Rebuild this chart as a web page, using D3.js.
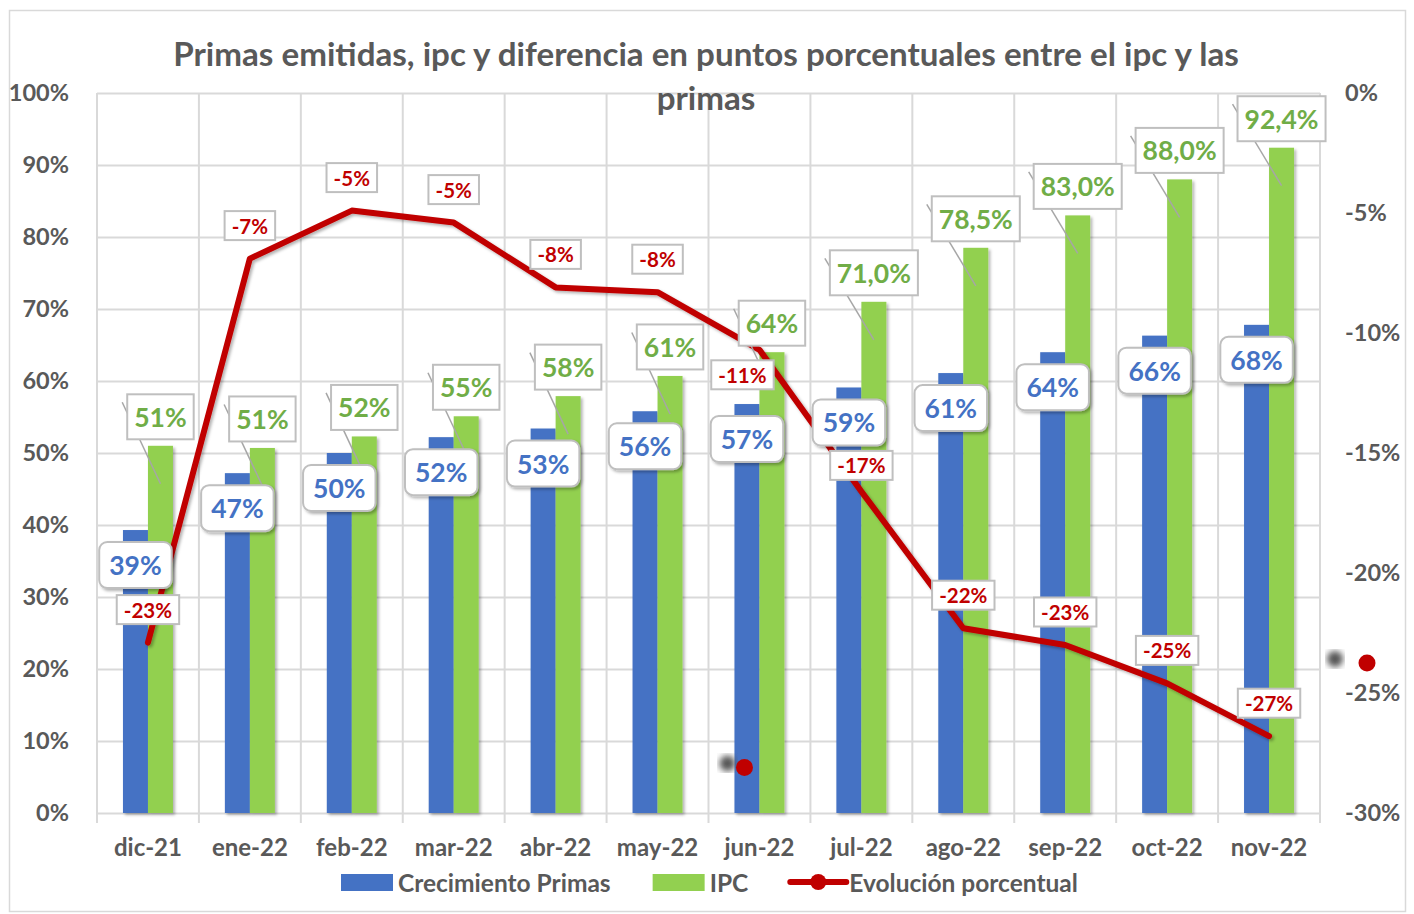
<!DOCTYPE html>
<html>
<head>
<meta charset="utf-8">
<script src="https://cdn.jsdelivr.net/npm/d3@7"></script>
<style>
  body { margin: 0; background: #fff; }
  text { font-family: Lato, "Open Sans", sans-serif; font-weight: bold; }
</style>
</head>
<body>
<svg id="chart"></svg>
<script>
// data
const categories = ["dic-21", "ene-22", "feb-22", "mar-22", "abr-22", "may-22",
                    "jun-22", "jul-22", "ago-22", "sep-22", "oct-22", "nov-22"];
const primas = [0.393, 0.472, 0.500, 0.522, 0.534, 0.558, 0.568, 0.591, 0.611, 0.640, 0.663, 0.678];
const ipc = [0.510, 0.507, 0.523, 0.551, 0.579, 0.607, 0.640, 0.710, 0.785, 0.830, 0.880, 0.924];
const ipcDecimals = [0, 0, 0, 0, 0, 0, 0, 1, 1, 1, 1, 1];
const evolucion = [-0.229, -0.069, -0.049, -0.054, -0.081, -0.083, -0.107, -0.166, -0.223, -0.230, -0.246, -0.268];
const leftTicks = [0, 0.1, 0.2, 0.3, 0.4, 0.5, 0.6, 0.7, 0.8, 0.9, 1.0];
const rightTicks = [0, -0.05, -0.10, -0.15, -0.20, -0.25, -0.30];
const seriesNames = ["Crecimiento Primas", "IPC", "Evolución porcentual"];

// labels that were dragged by hand in the original
const lineLabelNudge = { "jun-22": [-17, 58], "jul-22": [0, 7] };

const W = 1414, H = 914;
const plot = { left: 97, right: 1320, top: 93, bottom: 813 };
const colors = { primas: "#4472c4", ipc: "#92d050", line: "#c00000", text: "#595959", grid: "#d9d9d9" };

const es = d3.formatLocale({ decimal: ",", thousands: ".", grouping: [3], currency: ["", "€"], minus: "-" });
const pct0 = es.format(".0%");
const pct1 = es.format(".1%");

const svg = d3.select('#chart').attr('width', W).attr('height', H);

const defs = svg.append('defs');
defs.append('filter').attr('id', 'shadow')
    .attr('x', '-20%').attr('y', '-20%').attr('width', '150%').attr('height', '150%')
  .append('feDropShadow')
    .attr('dx', 2).attr('dy', 2).attr('stdDeviation', 1.5)
    .attr('flood-color', '#000').attr('flood-opacity', 0.3);
defs.append('filter').attr('id', 'blur')
  .append('feGaussianBlur').attr('stdDeviation', 3);

// outer chart border
svg.append('rect')
    .attr('x', 9.5).attr('y', 10.5).attr('width', 1396).attr('height', 901)
    .attr('fill', '#fff').attr('stroke', colors.grid).attr('stroke-width', 1.5);

const x = d3.scaleBand().domain(categories).range([plot.left, plot.right]).padding(0);
const y = d3.scaleLinear().domain([0, 1]).range([plot.bottom, plot.top]);
const yR = d3.scaleLinear().domain([-0.30, 0]).range([plot.bottom, plot.top]);
const barW = 25;
const cx = c => x(c) + x.bandwidth() / 2;

// horizontal grid
svg.append('g')
    .attr('transform', `translate(${plot.left},0)`)
    .call(d3.axisLeft(y).tickValues(leftTicks).tickSize(-(plot.right - plot.left)).tickFormat(''))
    .call(g => g.select('.domain').remove())
    .call(g => g.selectAll('line').attr('stroke', colors.grid).attr('stroke-width', 2));

// vertical grid at category boundaries (extends below axis like tick marks)
const bounds = categories.map(c => x(c)).concat([x(categories[categories.length - 1]) + x.bandwidth()]);
svg.append('g').selectAll('line')
    .data(bounds)
    .enter()
    .append('line')
    .attr('x1', d => d).attr('x2', d => d)
    .attr('y1', plot.top).attr('y2', plot.bottom + 10)
    .attr('stroke', colors.grid).attr('stroke-width', 2);

// left axis labels
svg.append('g')
    .attr('transform', `translate(${plot.left - 25},0)`)
    .call(d3.axisLeft(y).tickValues(leftTicks).tickSize(0).tickFormat(pct0))
    .call(g => g.select('.domain').remove())
    .call(g => g.selectAll('text').attr('fill', colors.text).style('font-size', '23.5px'));

// right axis labels
svg.append('g')
    .attr('transform', `translate(${plot.right + 22},0)`)
    .call(d3.axisRight(yR).tickValues(rightTicks).tickSize(0).tickFormat(pct0))
    .call(g => g.select('.domain').remove())
    .call(g => g.selectAll('text').attr('fill', colors.text).style('font-size', '23.5px'));

// x axis labels
svg.append('g')
    .attr('transform', `translate(0,${plot.bottom + 23})`)
    .call(d3.axisBottom(x).tickSize(0))
    .call(g => g.select('.domain').remove())
    .call(g => g.selectAll('text').attr('fill', colors.text).style('font-size', '24px'));

// bars
svg.append('g').selectAll('rect')
    .data(primas)
    .enter()
    .append('rect')
    .attr('x', (d, i) => cx(categories[i]) - barW)
    .attr('y', d => y(d))
    .attr('width', barW)
    .attr('height', d => plot.bottom - y(d))
    .attr('fill', colors.primas)
    .attr('filter', 'url(#shadow)');

svg.append('g').selectAll('rect')
    .data(ipc)
    .enter()
    .append('rect')
    .attr('x', (d, i) => cx(categories[i]))
    .attr('y', d => y(d))
    .attr('width', barW)
    .attr('height', d => plot.bottom - y(d))
    .attr('fill', colors.ipc)
    .attr('filter', 'url(#shadow)');

// stray markers left over in the original sheet
const strays = [
    { px: cx("jun-22") - 15, py: yR(-0.281) },
    { px: plot.right + 47, py: yR(-0.2375) }
];
svg.append('g').selectAll('circle')
    .data(strays)
    .enter()
    .append('circle')
    .attr('cx', d => d.px - 17 - (d.px > plot.right ? 15 : 0))
    .attr('cy', d => d.py - 4)
    .attr('r', 8).attr('fill', '#555').attr('filter', 'url(#blur)');
svg.append('g').selectAll('circle')
    .data(strays)
    .enter()
    .append('circle')
    .attr('cx', d => d.px).attr('cy', d => d.py)
    .attr('r', 8.5).attr('fill', colors.line);

// red line
const line = d3.line()
    .x((d, i) => cx(categories[i]))
    .y(d => yR(d));
svg.append('path')
    .datum(evolucion)
    .attr('d', line)
    .attr('fill', 'none')
    .attr('stroke', colors.line)
    .attr('stroke-width', 6)
    .attr('stroke-linejoin', 'round')
    .attr('stroke-linecap', 'round')
    .attr('filter', 'url(#shadow)');

// helper: boxed label
function boxLabel(g, txt, px, py, opts) {
    const t = g.append('text')
        .attr('x', px).attr('y', py)
        .attr('text-anchor', 'middle')
        .attr('dominant-baseline', 'central')
        .attr('fill', opts.color)
        .style('font-size', opts.size + 'px')
        .text(txt);
    const bb = t.node().getBBox();
    const bw = bb.width + opts.padX * 2;
    g.insert('rect', 'text')
        .attr('x', px - bw / 2).attr('y', py - opts.h / 2)
        .attr('width', bw).attr('height', opts.h)
        .attr('rx', opts.rx || 0)
        .attr('fill', '#fff')
        .attr('stroke', '#bfbfbf').attr('stroke-width', 2)
        .attr('filter', opts.shadow ? 'url(#shadow)' : null);
    return { left: px - bw / 2, top: py - opts.h / 2, width: bw };
}

// IPC labels with leader lines
const ipcLayer = svg.append('g');
ipc.forEach((v, i) => {
    const c = categories[i];
    const gx = cx(c) + barW / 2;
    const ly = y(v) - 29;
    const g = ipcLayer.append('g');
    const box = boxLabel(g, ipcDecimals[i] ? pct1(v) : pct0(v), gx, ly,
        { color: '#70ad47', size: 26.5, padX: 7, h: 45 });
    ipcLayer.insert('line', 'g')
        .attr('x1', box.left - 5).attr('y1', box.top + 8)
        .attr('x2', gx).attr('y2', y(v) + 38)
        .attr('stroke', '#a6a6a6').attr('stroke-width', 1.5);
});

// Primas labels (rounded, inside end)
const primasLayer = svg.append('g');
primas.forEach((v, i) => {
    const bx = cx(categories[i]) - barW / 2;
    boxLabel(primasLayer.append('g'), pct0(v), bx, y(v) + 35,
        { color: colors.primas, size: 26.5, padX: 10, h: 46, rx: 8, shadow: true });
});

// line labels
const lineLayer = svg.append('g');
evolucion.forEach((v, i) => {
    const c = categories[i];
    const n = lineLabelNudge[c] || [0, 0];
    boxLabel(lineLayer.append('g'), pct0(v), cx(c) + n[0], yR(v) - 33 + n[1],
        { color: colors.line, size: 20.5, padX: 7, h: 29 });
});

// title, fitted to the original width
const titleLines = ["Primas emitidas, ipc y diferencia en puntos porcentuales entre el ipc y las", "primas"];
const t1 = svg.append('text')
    .attr('x', 706).attr('y', 53)
    .attr('text-anchor', 'middle').attr('dominant-baseline', 'central')
    .attr('fill', colors.text).style('font-size', '30px')
    .text(titleLines[0]);
const titleSize = 30 * 1066 / t1.node().getComputedTextLength();
t1.style('font-size', titleSize + 'px');
svg.append('text')
    .attr('x', 706).attr('y', 97)
    .attr('text-anchor', 'middle').attr('dominant-baseline', 'central')
    .attr('fill', colors.text).style('font-size', titleSize + 'px')
    .text(titleLines[1]);

// legend
const legend = svg.append('g').attr('transform', 'translate(0,882)');
let lx = 341;
seriesNames.forEach((name, i) => {
    if (i < 2) {
        legend.append('rect')
            .attr('x', lx).attr('y', -8).attr('width', 52).attr('height', 17)
            .attr('fill', i === 0 ? colors.primas : colors.ipc);
    } else {
        legend.append('line')
            .attr('x1', lx).attr('x2', lx + 56).attr('y1', 0).attr('y2', 0)
            .attr('stroke', colors.line).attr('stroke-width', 6).attr('stroke-linecap', 'round');
        legend.append('circle').attr('cx', lx + 28).attr('cy', 0).attr('r', 8).attr('fill', colors.line);
    }
    const tx = legend.append('text')
        .attr('x', lx + (i < 2 ? 57 : 59)).attr('y', 0)
        .attr('dominant-baseline', 'central')
        .attr('fill', colors.text).style('font-size', '24.5px')
        .text(name);
    lx += (i < 2 ? 57 : 59) + tx.node().getComputedTextLength() + 42;
});
</script>
</body>
</html>
